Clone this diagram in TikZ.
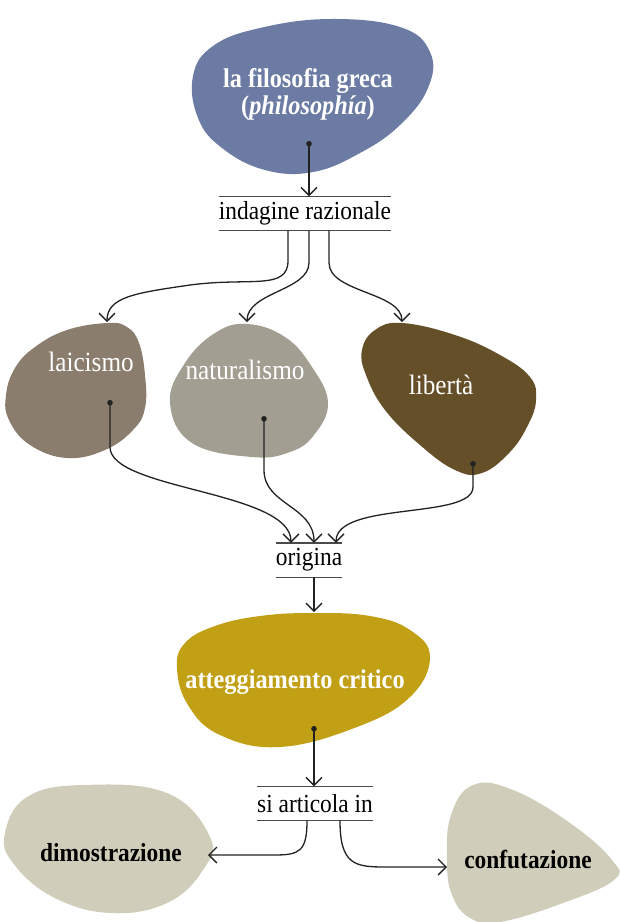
\documentclass[tikz,border=0pt]{standalone}
\usepackage{fontspec}
\setmainfont{Liberation Serif}[FakeStretch=0.9]
\usetikzlibrary{arrows.meta}
\definecolor{blobblue}{HTML}{6B7BA3}
\definecolor{blobtaupe}{HTML}{8B7D6D}
\definecolor{blobgrey}{HTML}{A39E92}
\definecolor{blobbrown}{HTML}{654F28}
\definecolor{blobochre}{HTML}{C1A015}
\definecolor{blobsand}{HTML}{D0CEBB}
\definecolor{inkgrey}{HTML}{222222}
\definecolor{rulegrey}{HTML}{4A4A4A}

\begin{document}
\begin{tikzpicture}[
  x=1pt, y=-1pt,
  font=\fontsize{26}{28}\selectfont,
  blob/.style={fill=#1, draw=none},
  lbl/.style={text=white, align=center, inner sep=0pt, font=\fontsize{28}{28}\selectfont},
  head/.style={text=white, align=center, inner sep=0pt, font=\fontsize{27}{27}\selectfont\bfseries},
  dark/.style={text=black, inner sep=0pt, font=\fontsize{26}{28}\selectfont\bfseries},
  link/.style={inner xsep=0pt, inner ysep=0pt, minimum height=34pt, text=black},
  rule/.style={line width=1.4pt, rulegrey},
  arr/.style={{Circle[length=5.5pt]}-{Straight Barb[length=8pt,width=16pt]}, line width=1.3pt, inkgrey},
  feed/.style={-{Straight Barb[length=8pt,width=16pt]}, line width=1.3pt, inkgrey},
]
\useasboundingbox (0,0) rectangle (620,922);

% blobs
\fill[blob=blobblue] plot[smooth cycle, tension=0.7] coordinates {(193,76) (213,46) (260,28) (330,19) (400,27) (430,52) (428,88) (400,125) (360,153) (313,172) (265,170) (222,148) (198,118)};
\fill[blob=blobtaupe] plot[smooth cycle, tension=0.7] coordinates {(107,323) (127,327) (139,343) (145,375) (145,408) (133,430) (105,450) (67,458) (30,445) (9,420) (6,395) (15,368) (35,347) (67,330)};
\fill[blob=blobgrey] plot[smooth cycle, tension=0.7] coordinates {(247,324) (285,337) (312,367) (328,403) (314,435) (290,452) (252,457) (192,443) (170,403) (185,363) (215,333)};
\fill[blob=blobbrown] plot[smooth cycle, tension=0.7] coordinates {(402,323) (455,335) (500,355) (530,377) (536,400) (528,425) (510,452) (482,473) (455,470) (420,445) (385,410) (366,375) (362,350) (375,330)};
\fill[blob=blobochre] plot[smooth cycle, tension=0.7] coordinates {(313,613) (370,616) (410,630) (430,657) (410,697) (357,727) (280,747) (220,735) (188,705) (177,668) (185,643) (215,626) (260,616)};
\fill[blob=blobsand] plot[smooth cycle, tension=0.7] coordinates {(83,785) (167,793) (210,837) (203,870) (167,903) (110,913) (53,897) (13,863) (5,833) (27,797)};
\fill[blob=blobsand] plot[smooth cycle, tension=0.7] coordinates {(473,785) (513,790) (570,823) (612,860) (614,880) (563,903) (500,922) (470,918) (452,895) (447,860) (451,815)};

% labels
\node[head] (greca) at (308,94) {la filosofia greca\\(\textit{philosophía})};
\node[lbl] (laic) at (91,362) {laicismo};
\node[lbl] (nat) at (245,370) {naturalismo};
\node[lbl] (lib) at (441,385) {libertà};
\node[head] (critico) at (295,682) {atteggiamento critico};
\node[dark] (dimo) at (111,853) {dimostrazione};
\node[dark] (conf) at (528,859) {confutazione};

\node[link] (ind) at (305,213.5) {indagine razionale};
\node[link] (orig) at (309,560) {origina};
\node[link] (art) at (315,803.5) {si articola in};
\foreach \n in {ind,orig,art}
  \draw[rule] (\n.north west) -- (\n.north east) (\n.south west) -- (\n.south east);

\coordinate (grecadot) at (309,141);
\coordinate (laicdot) at (110,400);
\coordinate (natdot) at (264,416);
\coordinate (libdot) at (473,461);
\coordinate (criticodot) at (314,726);
\coordinate (laictop) at (107,322);
\coordinate (nattop) at (247,322);
\coordinate (libtop) at (402,322);
\coordinate (dimoin) at (208,855);
\coordinate (confin) at (447,867);

% connectors
\draw[arr] (grecadot) -- (grecadot |- ind.north);
\draw[feed] ([xshift=-17pt]ind.south) -- +(0,30) .. controls +(0,30) and +(60,-8) .. (190,285) .. controls +(-55,8) and +(0,-25) .. (laictop);
\draw[feed] ([xshift=4pt]ind.south) -- +(0,32) .. controls +(0,28) and +(0,-30) .. (nattop);
\draw[feed] ([xshift=24pt]ind.south) -- +(0,32) .. controls +(0,30) and +(0,-30) .. (libtop);
\draw[arr] (laicdot) -- +(0,47) .. controls +(0,43) and +(0,-52) .. ([xshift=-18pt]orig.north);
\draw[arr] (natdot) -- +(0,54) .. controls +(0,35) and +(0,-37) .. ([xshift=5pt]orig.north);
\draw[arr] (libdot) -- +(0,26) .. controls +(0,33) and +(0,-42) .. ([xshift=27pt]orig.north);
\draw[feed] ([xshift=5pt]orig.south) -- (314,612);
\draw[arr] (criticodot) -- (criticodot |- art.north);
\draw[feed] ([xshift=-8pt]art.south) .. controls +(0,30) and +(25,0) .. (275,855) -- (dimoin);
\draw[feed] ([xshift=25pt]art.south) .. controls +(0,44) and +(-30,0) .. (385,867) -- (confin);
\end{tikzpicture}
\end{document}
